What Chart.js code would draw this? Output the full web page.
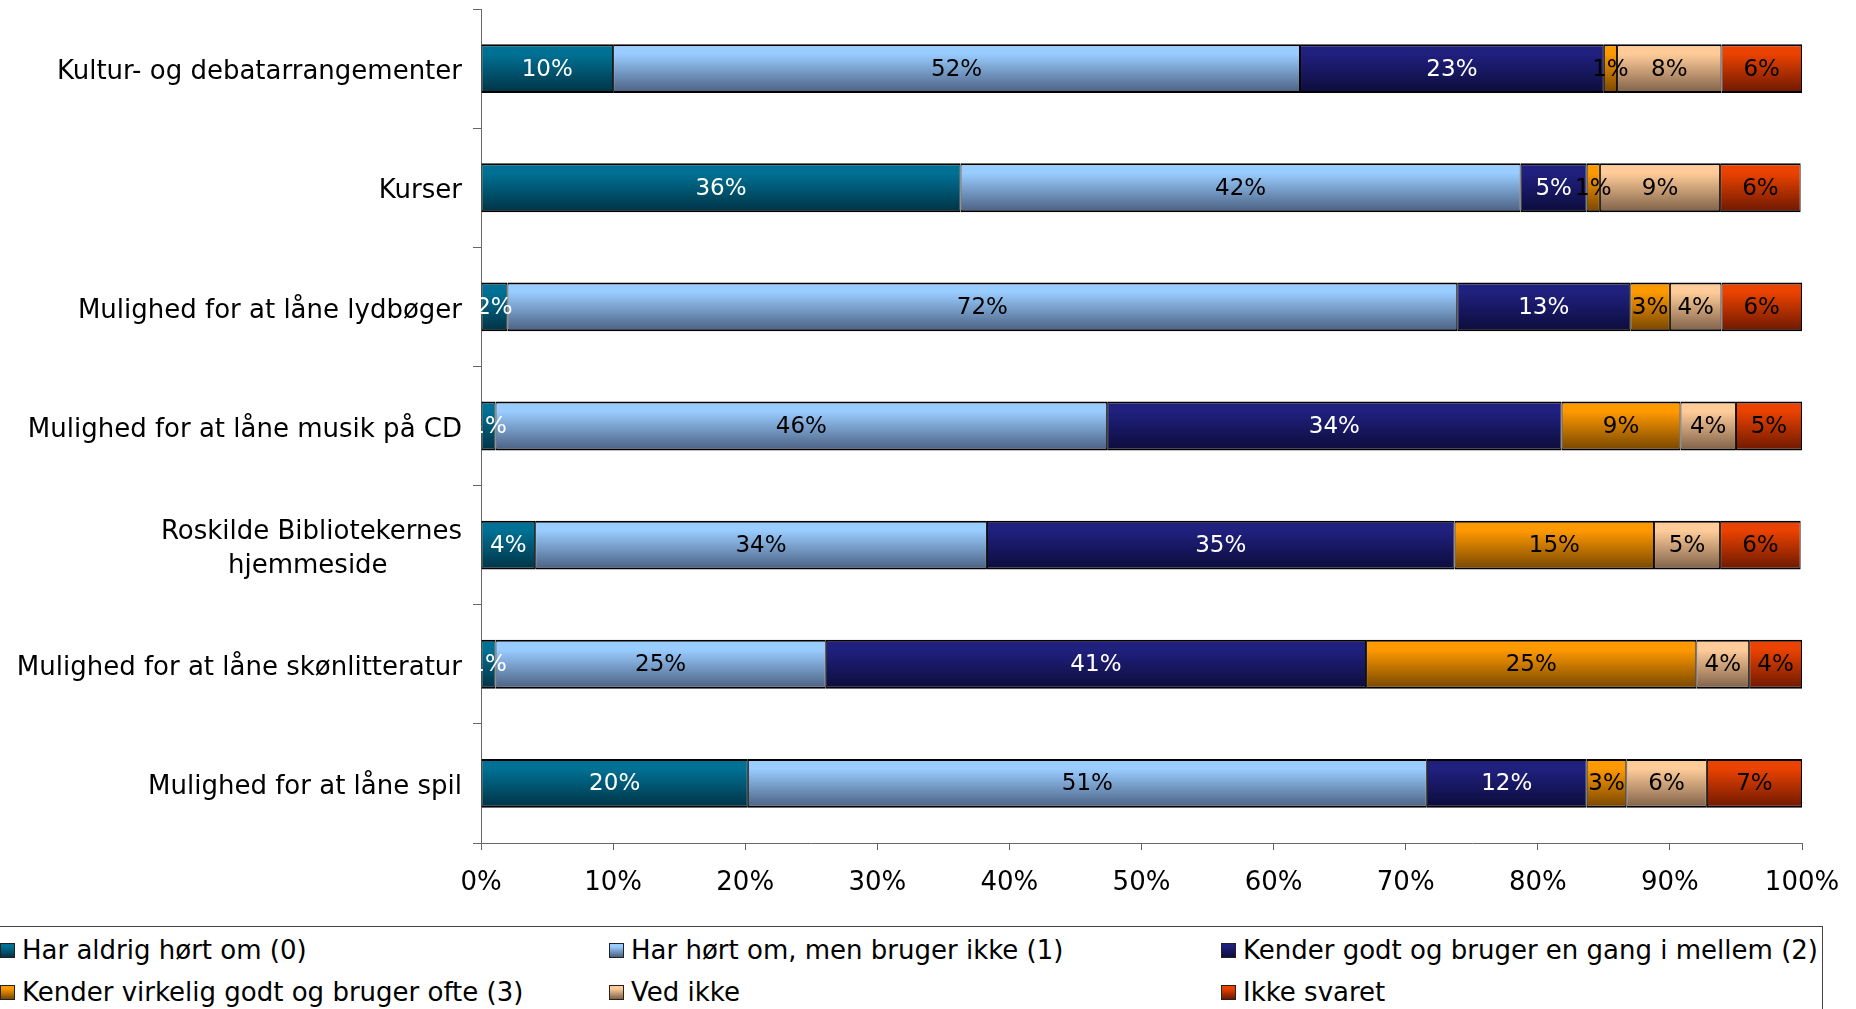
<!DOCTYPE html>
<html>
<head>
<meta charset="utf-8">
<script src="https://cdn.jsdelivr.net/npm/chart.js@4"></script>
<style>
  body { margin: 0; background: #fff; overflow: hidden; font-family: "DejaVu Sans", sans-serif; }
  #wrap { position: absolute; left: 0; top: 0; width: 1856px; height: 920px; }
  #legend {
    position: absolute; left: -2px; top: 926px; width: 1825px; height: 100px;
    border-top: 1px solid #444; border-right: 1px solid #444;
    display: grid; grid-template-columns: 609px 612px auto; grid-auto-rows: 42px;
    padding-top: 2px; font-size: 26px; color: #000; box-sizing: border-box;
  }
  #legend .item { display: flex; align-items: center; white-space: nowrap; }
  #legend .box { width: 13px; height: 13px; border: 1px solid #222; margin: 0 7px 0 2px; }
</style>
</head>
<body>
<div id="wrap"><canvas id="chart"></canvas></div>
<div id="legend"></div>
<script>
const categories = [
  'Kultur- og debatarrangementer',
  'Kurser',
  'Mulighed for at låne lydbøger',
  'Mulighed for at låne musik på CD',
  ['Roskilde Bibliotekernes', 'hjemmeside'],
  'Mulighed for at låne skønlitteratur',
  'Mulighed for at låne spil'
];
const seriesNames = [
  'Har aldrig hørt om (0)',
  'Har hørt om, men bruger ikke (1)',
  'Kender godt og bruger en gang i mellem (2)',
  'Kender virkelig godt og bruger ofte (3)',
  'Ved ikke',
  'Ikke svaret'
];
const harAldrig   = [10.0, 36.3,  2.0,  1.1,  4.1,  1.1, 20.2];
const hartOm      = [52.0, 42.4, 71.9, 46.3, 34.2, 25.0, 51.4];
const kenderGodt  = [23.0,  5.0, 13.1, 34.4, 35.4, 40.9, 12.1];
const kenderOfte  = [ 1.0,  1.0,  3.0,  9.0, 15.1, 25.0,  3.0];
const vedIkke     = [ 7.9,  9.1,  3.9,  4.2,  5.0,  4.0,  6.1];
const ikkeSvaret  = [ 6.1,  6.1,  6.1,  5.0,  6.1,  4.0,  7.2];
const xTicks = [0, 10, 20, 30, 40, 50, 60, 70, 80, 90, 100];

// top / bottom colour of each series gradient
const seriesColors = [
  ['#007194', '#003244'],
  ['#99ccff', '#4a5f80'],
  ['#20207f', '#0c0c3a'],
  ['#ff9900', '#764600'],
  ['#ffcc99', '#7e6048'],
  ['#ea4200', '#6c1800']
];
const labelColors = ['#fff', '#000', '#fff', '#000', '#000', '#000'];
const allSeries = [harAldrig, hartOm, kenderGodt, kenderOfte, vedIkke, ikkeSvaret];
const BAR_PCT = 0.41;
const CAT_FONT = '26px "DejaVu Sans"';

// pad the shorter lines of a two-line label with spaces so the lines look centred
function centreLines(label) {
  if (!Array.isArray(label)) return label;
  const m = document.createElement('canvas').getContext('2d');
  m.font = CAT_FONT;
  const widest = Math.max.apply(null, label.map(t => m.measureText(t).width));
  const sp = m.measureText(' ').width;
  return label.map(function(t) {
    const n = Math.round((widest - m.measureText(t).width) / 2 / sp);
    return t + ' '.repeat(n);
  });
}

function barGradient(context, i) {
  const chart = context.chart;
  const y = chart.scales && chart.scales.y;
  if (!chart.chartArea || !y || context.dataIndex === undefined) return seriesColors[i][0];
  const step = (y.bottom - y.top) / categories.length;
  const cy = y.getPixelForValue(context.dataIndex);
  const half = step * BAR_PCT / 2;
  const g = chart.ctx.createLinearGradient(0, cy - half, 0, cy + half);
  g.addColorStop(0, seriesColors[i][0]);
  g.addColorStop(0.2, seriesColors[i][0]);
  g.addColorStop(1, seriesColors[i][1]);
  return g;
}

const valueLabels = {
  id: 'valueLabels',
  afterDatasetsDraw(chart) {
    const ctx = chart.ctx;
    const a = chart.chartArea;
    ctx.save();
    ctx.beginPath();
    ctx.rect(a.left, a.top - 20, a.right - a.left, a.bottom - a.top + 40);
    ctx.clip();
    ctx.font = '23px "DejaVu Sans"';
    ctx.textAlign = 'center';
    ctx.textBaseline = 'middle';
    chart.data.datasets.forEach(function(ds, i) {
      chart.getDatasetMeta(i).data.forEach(function(bar, j) {
        ctx.fillStyle = labelColors[i];
        ctx.fillText(Math.round(ds.data[j]) + '%', (bar.x + bar.base) / 2, bar.y + 1);
      });
    });
    ctx.restore();
  }
};

const datasets = allSeries.map(function(values, i) {
  return {
    label: seriesNames[i],
    data: values,
    backgroundColor: function(c) { return barGradient(c, i); },
    borderColor: '#000',
    borderWidth: { top: 2, bottom: 2, left: 1, right: 1 },
    borderSkipped: false,
    categoryPercentage: 1,
    barPercentage: BAR_PCT
  };
});

new Chart(document.getElementById('chart'), {
  type: 'bar',
  data: { labels: categories.map(centreLines), datasets: datasets },
  options: {
    indexAxis: 'y',
    responsive: true,
    maintainAspectRatio: false,
    animation: false,
    layout: { padding: { top: 9, right: 54, bottom: 0, left: 0 } },
    plugins: { legend: { display: false }, tooltip: { enabled: false } },
    scales: {
      x: {
        stacked: true,
        min: 0,
        max: 100,
        afterBuildTicks: function(scale) { scale.ticks = xTicks.map(v => ({ value: v })); },
        ticks: { color: '#000', font: { family: 'DejaVu Sans', size: 26 }, padding: 18,
                 callback: v => v + '%', maxRotation: 0 },
        grid: { drawOnChartArea: false, drawTicks: true, tickLength: 7, color: '#666' },
        border: { color: '#666', width: 1 },
        afterFit: function(scale) {
          scale.height = 77;
          scale.paddingLeft = 0; scale.paddingRight = 0;
        }
      },
      y: {
        stacked: true,
        ticks: { color: '#000', font: { family: 'DejaVu Sans', size: 26, lineHeight: 1.3 },
                 padding: 11, labelOffset: 4 },
        grid: { drawOnChartArea: false, drawTicks: true, tickLength: 8, color: '#666', offset: true },
        border: { color: '#666', width: 1 },
        afterFit: function(scale) {
          scale.width = 481;
          scale.paddingTop = 0; scale.paddingBottom = 0;
        }
      }
    }
  },
  plugins: [valueLabels]
});

// legend in three columns, like the original
const legend = document.getElementById('legend');
seriesNames.forEach(function(name, i) {
  const item = document.createElement('div');
  item.className = 'item';
  const box = document.createElement('span');
  box.className = 'box';
  box.style.background = 'linear-gradient(' + seriesColors[i][0] + ' 20%, ' + seriesColors[i][1] + ')';
  item.appendChild(box);
  item.appendChild(document.createTextNode(name));
  legend.appendChild(item);
});
</script>
</body>
</html>
